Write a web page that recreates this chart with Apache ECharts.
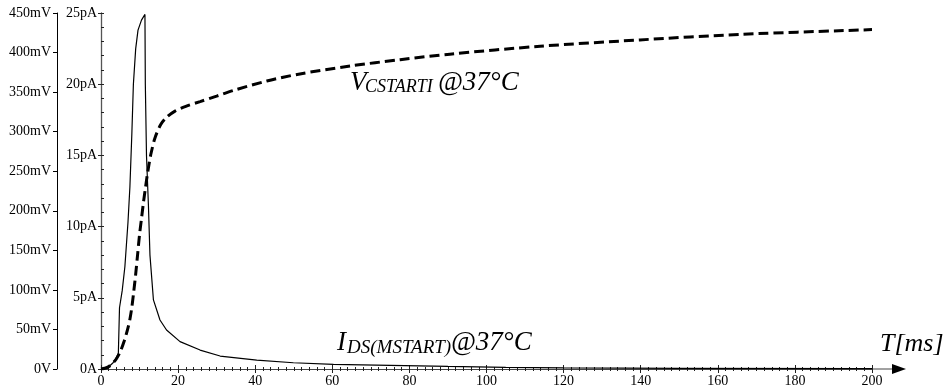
<!DOCTYPE html>
<html>
<head>
<meta charset="utf-8">
<script src="https://cdn.jsdelivr.net/npm/echarts@6/dist/echarts.min.js"></script>
<style>html,body{margin:0;padding:0;background:#fff}#c{width:948px;height:391px}</style>
</head>
<body>
<div id="c"></div>
<script>
// Time axis ticks (ms)
var xTicks = [0, 20, 40, 60, 80, 100, 120, 140, 160, 180, 200];
// V_CSTART1 (mV) vs time (ms)
var tV = [0, 1, 2, 3, 4, 5, 6, 7, 7.5, 8, 8.5, 9, 9.5, 10, 10.5, 11, 11.5, 12, 12.5, 13, 14, 15.5, 17, 19.2, 22, 25.7, 30, 34.3, 43, 51.6, 64.6, 77.6, 90.5, 113.9, 139.8, 165.8, 200];
var vV = [0, 1, 3, 7, 13, 22, 35, 52, 63, 78, 98, 120, 145, 170, 190, 210, 228, 245, 260, 273, 292, 309, 318, 326, 332, 338, 345, 352, 364, 373, 383, 391, 398, 408, 416, 423, 429];
// I_DS(MSTART) (pA) vs time (ms)
var tI = [0, 1, 2, 3, 3.6, 4.5, 4.6, 4.8, 5.5, 6.2, 7.0, 7.5, 8.0, 8.4, 9.0, 9.6, 10.5, 11.4, 11.5, 11.8, 12.3, 12.7, 13.6, 15.3, 17, 20.5, 25.7, 30.9, 40.4, 49.9, 60.3, 75, 90, 105, 120, 150, 200];
var iI = [0, 0.05, 0.16, 0.4, 0.6, 1.1, 1.2, 4.3, 5.5, 7.2, 10.3, 12.8, 16.5, 20.0, 22.5, 23.8, 24.5, 24.9, 20.0, 15.0, 11.5, 8.0, 4.85, 3.44, 2.74, 1.92, 1.33, 0.91, 0.63, 0.44, 0.33, 0.26, 0.18, 0.12, 0.08, 0.05, 0.03];
// Left axes tick values
var mVTicks = [0, 50, 100, 150, 200, 250, 300, 350, 400, 450];
var pATicks = [0, 5, 10, 15, 20, 25];

var FONT = 'Liberation Serif';
var vData = tV.map(function (t, i) { return [t, vV[i]]; });
var iData = tI.map(function (t, i) { return [t, iI[i]]; });

var chart = echarts.init(document.getElementById('c'), null, {renderer: 'canvas'});
var axisLbl = {color: '#000', fontFamily: FONT, fontSize: 14};

function txt(x, y, s, size) {
  return {type: 'text', x: x, y: y, silent: true,
    style: {text: s, fill: '#000', fontFamily: FONT, fontStyle: 'italic', fontSize: size, verticalAlign: 'middle', align: 'left'}};
}

chart.setOption({
  animation: false,
  backgroundColor: '#fff',
  grid: {left: 101, right: 76, top: 13, bottom: 22, containLabel: false},
  xAxis: [{
    type: 'value', position: 'bottom', min: xTicks[0], max: xTicks[xTicks.length - 1], interval: xTicks[1] - xTicks[0],
    axisLine: {onZero: false, lineStyle: {color: '#444', width: 1}},
    axisTick: {show: true, length: 4, lineStyle: {color: '#222'}},
    minorTick: {show: true, splitNumber: 10, length: 2, lineStyle: {color: '#222'}},
    axisLabel: Object.assign({margin: 5}, axisLbl),
    splitLine: {show: false}
  }, {
    type: 'value', position: 'bottom', min: xTicks[0], max: xTicks[xTicks.length - 1], interval: xTicks[1] - xTicks[0],
    axisLine: {show: false, onZero: false},
    axisTick: {show: true, inside: true, length: 4, lineStyle: {color: '#222'}},
    minorTick: {show: true, splitNumber: 10, length: 2, lineStyle: {color: '#222'}},
    axisLabel: {show: false}, splitLine: {show: false}
  }],
  yAxis: [{
    type: 'value', position: 'left', offset: 44, min: mVTicks[0], max: mVTicks[mVTicks.length - 1], interval: mVTicks[1] - mVTicks[0],
    axisLine: {show: true, onZero: false, lineStyle: {color: '#000', width: 1}},
    axisTick: {show: true, length: 4, lineStyle: {color: '#000'}},
    axisLabel: Object.assign({margin: 6, formatter: function (v) { return v === 0 ? '0V' : v + 'mV'; }}, axisLbl),
    splitLine: {show: false}
  }, {
    type: 'value', position: 'left', offset: 0, min: pATicks[0], max: pATicks[pATicks.length - 1], interval: pATicks[1] - pATicks[0],
    axisLine: {show: true, onZero: false, lineStyle: {color: '#555', width: 1.3}},
    axisTick: {show: true, length: 3, lineStyle: {color: '#222'}},
    axisLabel: Object.assign({margin: 4, formatter: function (v) { return v === 0 ? '0A' : v + 'pA'; }}, axisLbl),
    splitLine: {show: false}
  }, {
    type: 'value', position: 'left', offset: 0, min: pATicks[0], max: pATicks[pATicks.length - 1], interval: pATicks[1] - pATicks[0],
    axisLine: {show: false, onZero: false},
    axisTick: {show: true, inside: true, length: 3, lineStyle: {color: '#222'}},
    minorTick: {show: true, splitNumber: 5, length: 3, lineStyle: {color: '#222'}},
    axisLabel: {show: false}, splitLine: {show: false}
  }],
  series: [{
    name: 'VCSTART1', type: 'line', xAxisIndex: 0, yAxisIndex: 0, data: vData,
    showSymbol: false, smooth: 0.3,
    lineStyle: {color: '#000', width: 3, type: [10, 5]}, z: 3
  }, {
    name: 'IDS', type: 'line', xAxisIndex: 0, yAxisIndex: 1, data: iData,
    showSymbol: false, smooth: false,
    lineStyle: {color: '#000', width: 1.2}, z: 4
  }],
  graphic: [
    {type: 'line', silent: true, shape: {x1: 872, y1: 369, x2: 893, y2: 369}, style: {stroke: '#444', lineWidth: 1}},
    {type: 'polygon', silent: true, shape: {points: [[892, 364], [892, 374], [906, 369]]}, style: {fill: '#000'}},
    txt(350, 83, 'V', 27),
    txt(365, 87, 'CSTARTI', 18),
    txt(438, 83, '@37°C', 27),
    txt(337, 343, 'I', 27),
    txt(347, 348, 'DS(MSTART)', 19),
    txt(451, 343, '@37°C', 27),
    txt(880, 344, 'T[ms]', 26)
  ]
});
</script>
</body>
</html>
